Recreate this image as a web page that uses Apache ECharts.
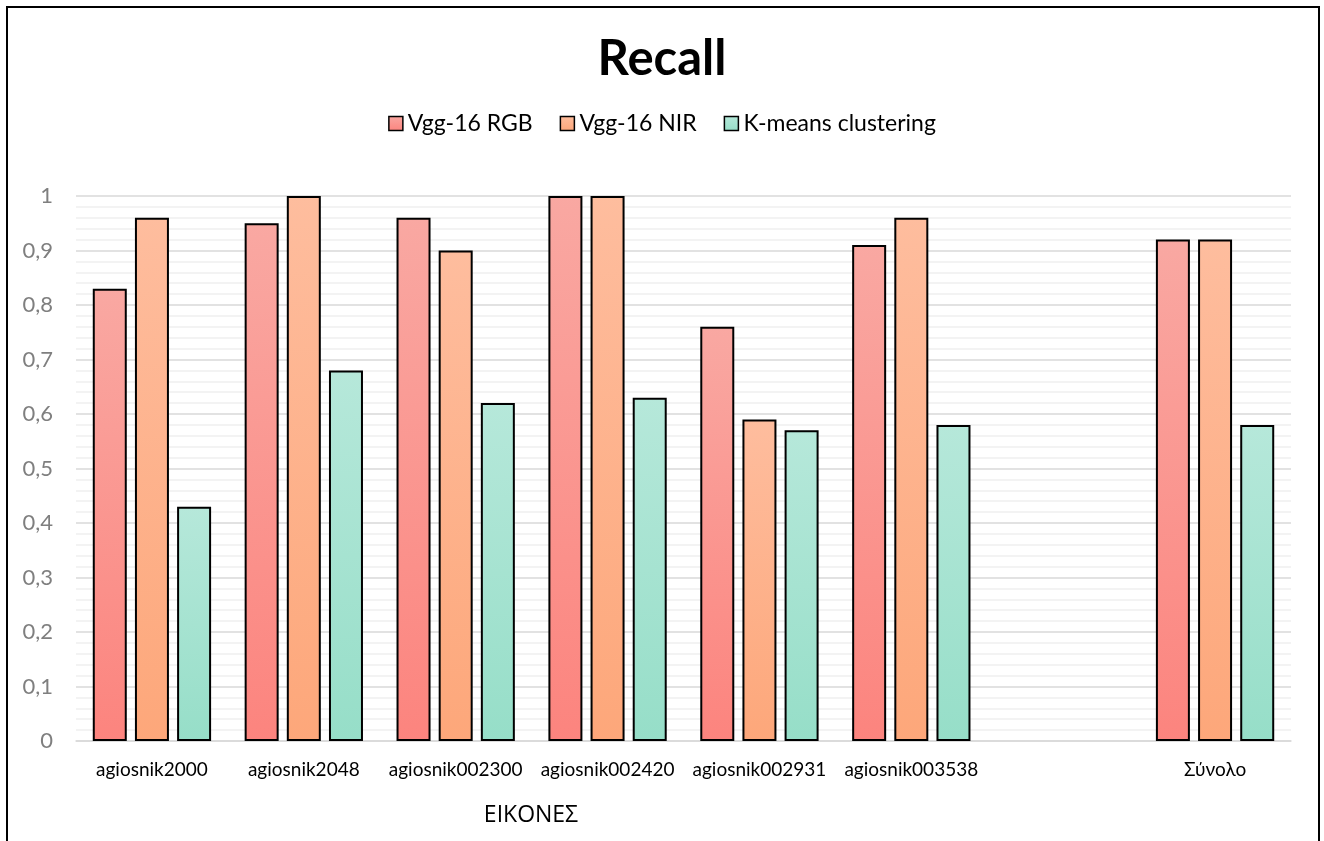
<!DOCTYPE html>
<html>
<head>
<meta charset="utf-8">
<script src="https://cdn.jsdelivr.net/npm/echarts@6/dist/echarts.min.js"></script>
<style>
  html, body { margin: 0; padding: 0; background: #fff; }
  #chart { width: 1324px; height: 841px; }
</style>
</head>
<body>
<div id="chart"></div>
<script>
// Image names (the empty slot leaves a gap before the total)
const categories = ['agiosnik2000', 'agiosnik2048', 'agiosnik002300', 'agiosnik002420',
  'agiosnik002931', 'agiosnik003538', '', 'Σύνολο'];

// Recall per method
const vggRgb = [0.83, 0.95, 0.96, 1.00, 0.76, 0.91, null, 0.92];
const vggNir = [0.96, 1.00, 0.90, 1.00, 0.59, 0.96, null, 0.92];
const kmeans = [0.43, 0.68, 0.62, 0.63, 0.57, 0.58, null, 0.58];

const seriesNames = ['Vgg-16 RGB', 'Vgg-16 NIR', 'K-means clustering'];
const yTicks = [0, 0.1, 0.2, 0.3, 0.4, 0.5, 0.6, 0.7, 0.8, 0.9, 1];

const FONT = "Lato, 'Noto Sans', sans-serif";

function grad(top, bottom) {
  return new echarts.graphic.LinearGradient(0, 0, 0, 1, [
    { offset: 0, color: top },
    { offset: 1, color: bottom }
  ]);
}

const fills = [
  grad('#f9a8a2', '#fc847e'),
  grad('#febd9e', '#fda77a'),
  grad('#b6e8da', '#96dec8')
];

function barSeries(name, data, fill) {
  return {
    name: name,
    type: 'bar',
    data: data,
    barWidth: 34,
    barGap: '24%',
    itemStyle: { color: fill, borderColor: '#000', borderWidth: 2 },
    emphasis: { disabled: true }
  };
}

const chart = echarts.init(document.getElementById('chart'), null, { renderer: 'canvas' });

chart.setOption({
  animation: false,
  backgroundColor: '#fff',
  title: {
    text: 'Recall',
    left: 'center',
    top: 30,
    textStyle: { fontFamily: FONT, fontSize: 49, fontWeight: 'bold', color: '#000' }
  },
  legend: {
    top: 107,
    left: 'center',
    itemWidth: 14,
    itemHeight: 14,
    itemGap: 27,
    icon: 'rect',
    textStyle: { fontFamily: FONT, fontSize: 23, color: '#000' },
    data: seriesNames.map((n, i) => ({
      name: n,
      itemStyle: { color: fills[i], borderColor: '#000', borderWidth: 1.5 }
    }))
  },
  grid: { left: 76, right: 33, top: 196, bottom: 100, containLabel: false },
  xAxis: {
    type: 'category',
    data: categories,
    axisLine: { lineStyle: { color: '#d9d9d9', width: 1.5 } },
    axisTick: { show: false },
    axisLabel: { fontFamily: FONT, fontSize: 19, color: '#000', margin: 19, interval: 0 }
  },
  yAxis: {
    type: 'value',
    min: yTicks[0],
    max: yTicks[yTicks.length - 1],
    interval: 0.1,
    axisLine: { show: false },
    axisTick: { show: false },
    axisLabel: {
      fontFamily: FONT, fontSize: 22, color: '#7f7f7f', margin: 23,
      formatter: v => {
        const r = Math.round(v * 10) / 10;
        return (r === 0 || r === 1) ? String(r) : r.toFixed(1).replace('.', ',');
      }
    },
    splitLine: { lineStyle: { color: '#d9d9d9', width: 1.5 } },
    minorTick: { show: false, splitNumber: 5 },
    minorSplitLine: { show: true, lineStyle: { color: '#efefef', width: 1.5 } }
  },
  graphic: [
    {
      type: 'rect',
      shape: { x: 7, y: 7, width: 1312, height: 860 },
      style: { fill: 'none', stroke: '#000', lineWidth: 2 },
      silent: true
    },
    {
      type: 'text',
      x: 531,
      y: 815,
      style: {
        text: 'ΕΙΚΟΝΕΣ',
        font: "23px 'Open Sans', 'Noto Sans', sans-serif",
        fill: '#000',
        align: 'center',
        verticalAlign: 'middle'
      },
      silent: true
    }
  ],
  series: [
    barSeries(seriesNames[0], vggRgb, fills[0]),
    barSeries(seriesNames[1], vggNir, fills[1]),
    barSeries(seriesNames[2], kmeans, fills[2])
  ]
});
</script>
</body>
</html>
